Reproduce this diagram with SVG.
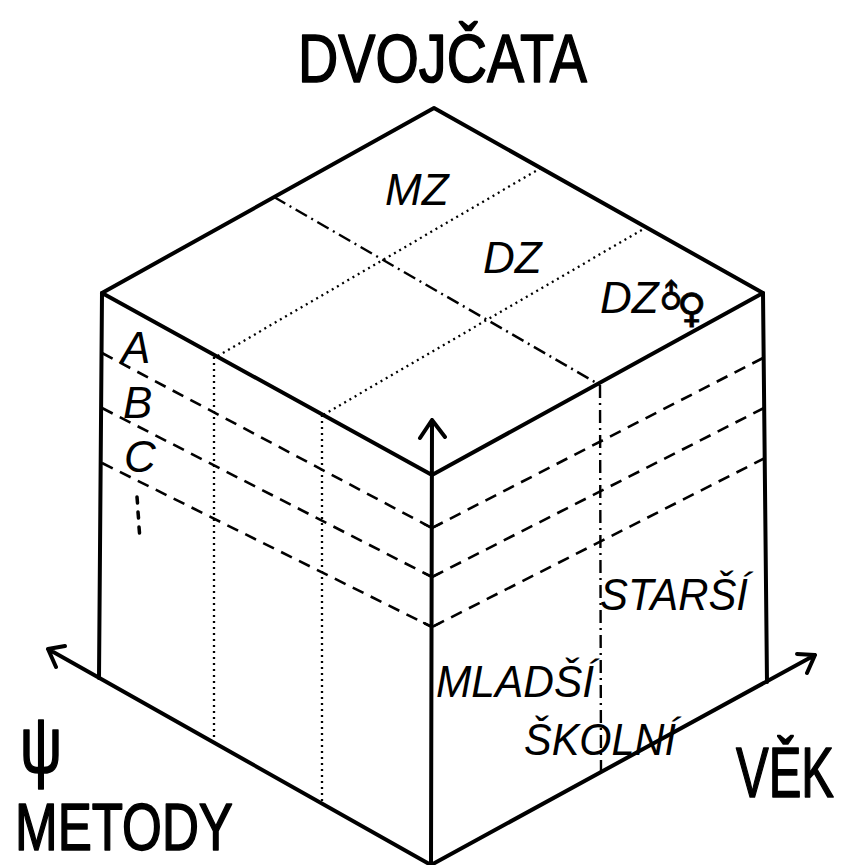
<svg xmlns="http://www.w3.org/2000/svg" width="844" height="865" viewBox="0 0 844 865">
<style>
.edge{fill:none;stroke:#000;stroke-width:4;stroke-linecap:round;stroke-linejoin:round}
.axis{fill:none;stroke:#000;stroke-width:4;stroke-linecap:round;stroke-linejoin:round}
.dash{fill:none;stroke:#000;stroke-width:2.6;stroke-dasharray:12 8}
.dot{fill:none;stroke:#000;stroke-width:2.3;stroke-dasharray:2 4}
.dashdot{fill:none;stroke:#000;stroke-width:2.4;stroke-dasharray:13 5 2 5}
.tick{fill:none;stroke:#000;stroke-width:2.4;stroke-linecap:round}
.vdots{fill:none;stroke:#000;stroke-width:3.5;stroke-linecap:round}
.title{font-family:"Liberation Sans",Arial,sans-serif;font-size:68px;fill:#000;stroke:#000;stroke-width:1.6;stroke-linejoin:round}
.lab{font-family:"Liberation Sans",Arial,sans-serif;font-style:italic;font-size:44px;fill:#000}
.sym{font-family:"DejaVu Sans",sans-serif;fill:#000;stroke:#000;stroke-width:0.8}
</style>
<rect width="844" height="865" fill="#fff"/>

<g id="grid">
  <path class="dashdot" d="M274,197 L600,385"/>
  <path class="dashdot" d="M600,385 L601,772"/>
  <path class="dot" d="M541,168 L216,357"/>
  <path class="dot" d="M647,227 L323,415"/>
  <path class="dot" d="M214,357 L214,744"/>
  <path class="dot" d="M322,415 L322,804"/>
  <path class="dash" d="M102,353 L432,528"/>
  <path class="dash" d="M102,408 L432,577"/>
  <path class="dash" d="M102,463 L432,627"/>
  <path class="dash" d="M763,358 L432,528"/>
  <path class="dash" d="M764,408 L432,577"/>
  <path class="dash" d="M765,458 L432,627"/>
  <path class="tick" d="M424,524 L432,528 L440,524 M424,573 L432,577 L440,573 M424,623 L432,627 L440,623"/>
  <path class="vdots" d="M137,497 L137.5,503 M138,512 L138.5,518 M139,527 L139.5,533"/>
</g>

<g id="cube">
  <path class="edge" d="M102,293 L434,108 L763,293 L432,475 Z"/>
  <path class="edge" d="M102,293 L99,678"/>
  <path class="edge" d="M763,293 L767,682"/>
</g>

<g id="connectors">
  <path class="axis" d="M431,865 L432,420 M420,438 L432,420 L445,437"/>
  <path class="axis" d="M431,865 L48,649 M65,646 L48,649 L56,667"/>
  <path class="axis" d="M431,865 L815,655 M797,654 L815,655 L807,673"/>
</g>

<g id="labels">
  <text class="title" x="298" y="82" textLength="289" lengthAdjust="spacingAndGlyphs">DVOJČATA</text>
  <text class="title" x="15" y="850" style="font-size:67px" textLength="218" lengthAdjust="spacingAndGlyphs">METODY</text>
  <text class="title" x="0" y="0" style="font-size:70px" transform="translate(736,797) scale(0.7,1)">VĚK</text>
  <text class="title" x="20" y="772" style="font-size:80px" textLength="42" lengthAdjust="spacingAndGlyphs">ψ</text>
  <text class="lab" x="385" y="205">MZ</text>
  <text class="lab" x="483" y="273">DZ</text>
  <text class="lab" x="600" y="313">DZ</text>
  <text class="sym" x="0" y="0" font-size="32" transform="translate(658,311) rotate(-45 10 -11)">♂</text>
  <text class="sym" x="677" y="322" font-size="40">♀</text>
  <text class="lab" x="121" y="363">A</text>
  <text class="lab" x="123" y="418">B</text>
  <text class="lab" x="124" y="472">C</text>
  <text class="lab" x="600" y="610" textLength="148" lengthAdjust="spacingAndGlyphs">STARŠÍ</text>
  <text class="lab" x="436" y="697" textLength="158" lengthAdjust="spacingAndGlyphs">MLADŠÍ</text>
  <text class="lab" x="524" y="755" textLength="152" lengthAdjust="spacingAndGlyphs">ŠKOLNÍ</text>
</g>
</svg>
